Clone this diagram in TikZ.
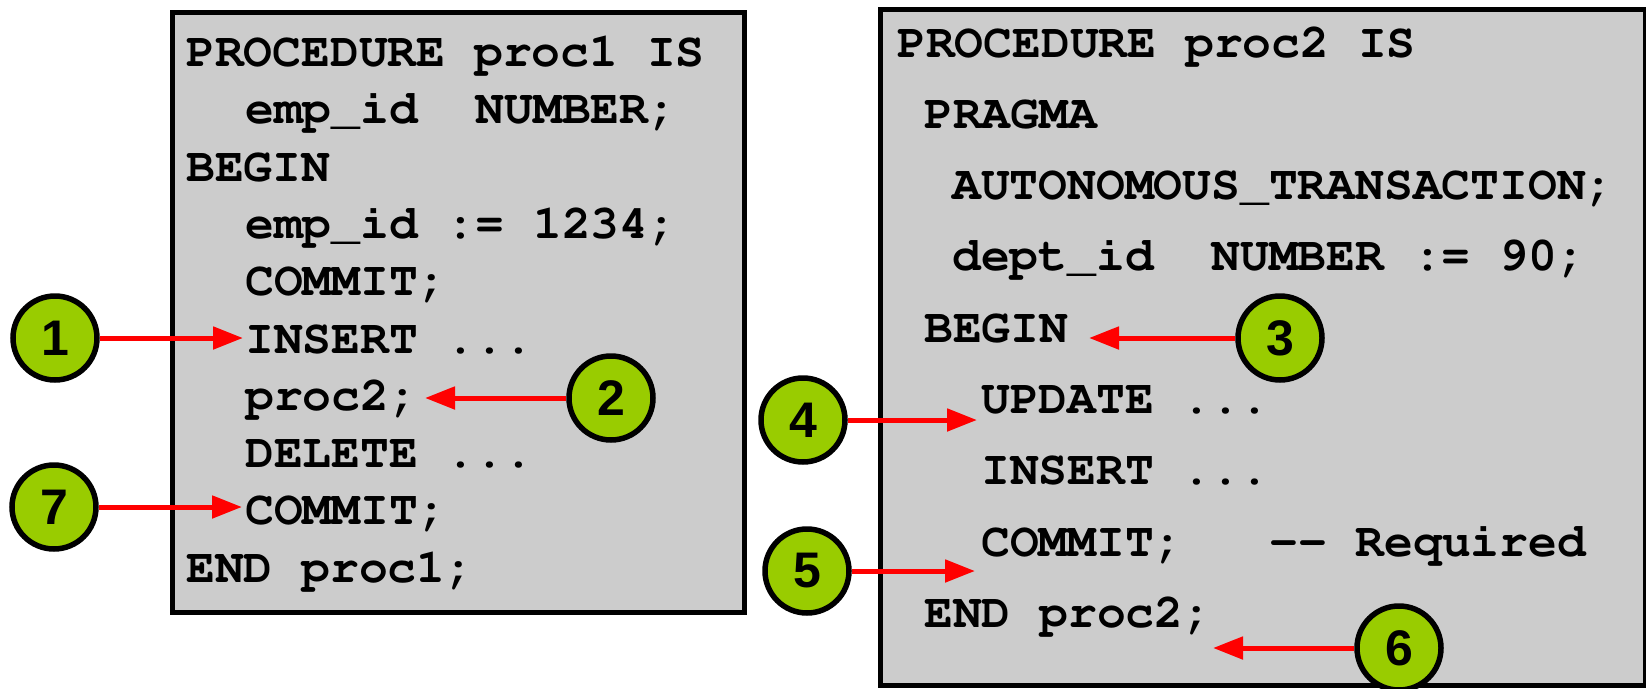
\documentclass[tikz,border=0pt]{standalone}
\usepackage[T1]{fontenc}
\usepackage{fontspec}
\setmonofont{Liberation Mono}
\newfontfamily\numfont{Liberation Sans}
\usetikzlibrary{arrows.meta}
\definecolor{boxgray}{HTML}{CCCCCC}
\definecolor{okgreen}{HTML}{99CC00}
\definecolor{arred}{HTML}{FF0000}
\newcommand\SP{\hbox to 0.6em{}}
\newcommand\codefont{\fontencoding{T1}\fontfamily{pcr}\fontseries{b}\fontshape{n}\fontsize{48}{48}\selectfont}
\begin{document}
\begin{tikzpicture}[x=1pt,y=-1pt,
  codebox/.style={draw=black, line width=5pt, fill=boxgray, inner sep=0pt, anchor=north west},
  code/.style={anchor=base west, inner sep=0pt, font=\codefont},
  badge/.style={circle, draw=black, line width=5.5pt, fill=okgreen, minimum size=84pt, inner sep=0pt,
    font=\fontsize{50}{50}\selectfont\numfont\bfseries},
  pointer/.style={draw=arred, color=arred, line width=5pt, -{Triangle[length=30pt,width=22pt]}}]
\useasboundingbox (0,0) rectangle (1646,688);
\clip (0,0) rectangle (1646,688);

% boxes
\node[codebox, minimum width=572pt, minimum height=600pt] (boxL) at (170,10) {};
\node[codebox, minimum width=765pt, minimum height=676pt] (boxR) at (878,7) {};

% left code
\node[code] (L1) at (186,66.5) {PROCEDURE\SP proc1\SP IS};
\node[code] (L2) at (245,123.8) {emp\_id\SP\SP NUMBER;};
\node[code] (L3) at (186,181.1) {BEGIN};
\node[code] (L4) at (245,238.4) {emp\_id\SP :=\SP 1234;};
\node[code] (L5) at (245,295.7) {COMMIT;};
\node[code] (L6) at (245,353.0) {INSERT\SP ...};
\node[code] (L7) at (245,410.3) {proc2;};
\node[code] (L8) at (245,467.6) {DELETE\SP ...};
\node[code] (L9) at (245,524.9) {COMMIT;};
\node[code] (L10) at (186,582.2) {END\SP proc1;};

% right code
\node[code] (R1) at (897,57) {PROCEDURE\SP proc2\SP IS};
\node[code] (R2) at (924,128.3) {PRAGMA};
\node[code] (R3) at (952,199.6) {AUTONOMOUS\_TRANSACTION;};
\node[code] (R4) at (952,270.9) {dept\_id\SP\SP NUMBER\SP :=\SP 90;};
\node[code] (R5) at (924,342.2) {BEGIN};
\node[code] (R6) at (981,413.5) {UPDATE\SP ...};
\node[code] (R7) at (981,484.8) {INSERT\SP ...};
\node[code] (R8) at (981,556.1) {COMMIT;\SP\SP\SP -{}-\SP Required};
\node[code] (R9) at (924,627.4) {END\SP proc2;};

% badges
\node[badge] (c1) at (55,338) {1};
\node[badge] (c2) at (611,398) {2};
\node[badge] (c3) at (1280,338) {3};
\node[badge] (c4) at (803,420) {4};
\node[badge] (c5) at (807,571) {5};
\node[badge] (c6) at (1399,648) {6};
\node[badge] (c7) at (54,507) {7};

% arrow tips
\coordinate (t1) at (243,338);
\coordinate (t2) at (425,398);
\coordinate (t3) at (1089,338);
\coordinate (t4) at (977,420);
\coordinate (t5) at (975,571);
\coordinate (t6) at (1213,648);
\coordinate (t7) at (242,507);

\draw[pointer] (c1) -- (t1);
\draw[pointer] (c2) -- (t2);
\draw[pointer] (c3) -- (t3);
\draw[pointer] (c4) -- (t4);
\draw[pointer] (c5) -- (t5);
\draw[pointer] (c6) -- (t6);
\draw[pointer] (c7) -- (t7);
\end{tikzpicture}
\end{document}
